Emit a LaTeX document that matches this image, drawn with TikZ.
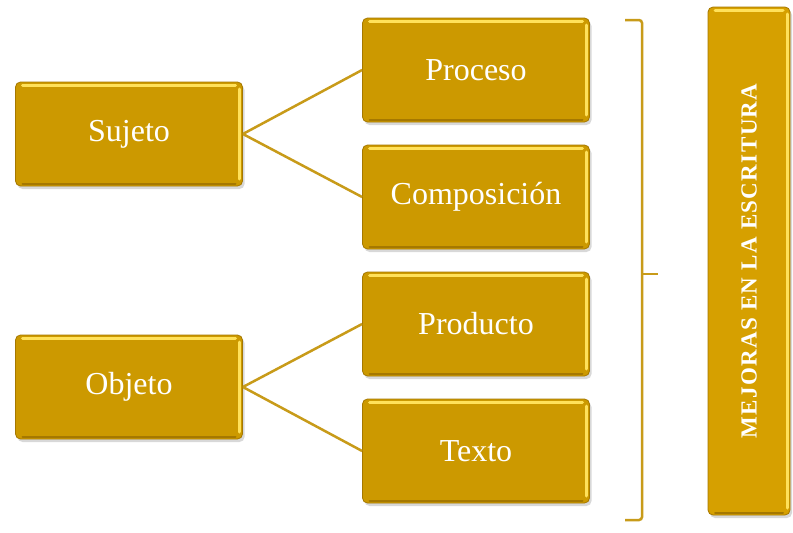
\documentclass[tikz,border=0pt]{standalone}
\usepackage{fontspec}
\setmainfont{Liberation Serif}
\usetikzlibrary{shadows}
\definecolor{gold}{RGB}{204,153,0}
\definecolor{goldR}{RGB}{214,160,0}
\definecolor{goldline}{RGB}{200,155,25}
\definecolor{goldhi}{RGB}{255,225,90}
\definecolor{golddark}{RGB}{165,120,0}
\tikzset{
  box/.style={draw=golddark, line width=0.8pt, fill=gold, rounded corners=5pt,
    minimum width=227pt, minimum height=104pt, inner sep=0pt, text=white,
    font=\fontsize{32}{38}\selectfont,
    drop shadow={shadow xshift=2pt, shadow yshift=-3pt, opacity=0.3, fill=gray},
    path picture={
      \draw[goldhi, line width=3pt, line cap=round]
        ([xshift=7pt,yshift=-3pt]path picture bounding box.north west) --
        ([xshift=-7pt,yshift=-3pt]path picture bounding box.north east);
      \draw[goldhi, line width=3pt, line cap=round]
        ([xshift=-3pt,yshift=-7pt]path picture bounding box.north east) --
        ([xshift=-3pt,yshift=7pt]path picture bounding box.south east);
      \draw[golddark, line width=2pt, line cap=round]
        ([xshift=7pt,yshift=2pt]path picture bounding box.south west) --
        ([xshift=-7pt,yshift=2pt]path picture bounding box.south east);
    }},
  link/.style={draw=goldline, line width=2.5pt},
}
\begin{document}
\begin{tikzpicture}[x=1pt,y=-1pt]
  \fill[white] (0,0) rectangle (793,533);
  \useasboundingbox (0,0) rectangle (793,533);
  \node[box] (suj) at (129,134) {Sujeto};
  \node[box] (obj) at (129,387) {Objeto};
  \node[box] (pro) at (476,70) {Proceso};
  \node[box] (com) at (476,197) {Composición};
  \node[box] (prd) at (476,324) {Producto};
  \node[box] (tex) at (476,451) {Texto};
  \node[box, fill=goldR, minimum width=82pt, minimum height=508pt] (mej) at (749,261)
    {\rotatebox{90}{\fontsize{23}{27}\selectfont\bfseries\addfontfeature{LetterSpace=6}MEJORAS EN LA ESCRITURA}};
  \draw[link] (suj.east) -- (pro.west);
  \draw[link] (suj.east) -- (com.west);
  \draw[link] (obj.east) -- (prd.west);
  \draw[link] (obj.east) -- (tex.west);
  \coordinate (bt) at (625,20);
  \coordinate (bb) at (625,520);
  \coordinate (bm) at (642,274);
  \coordinate (bp) at (658,274);
  \draw[link, rounded corners=3pt] (bt) -- (642,20) -- (642,520) -- (bb);
  \draw[link] (bm) -- (bp);
\end{tikzpicture}
\end{document}
